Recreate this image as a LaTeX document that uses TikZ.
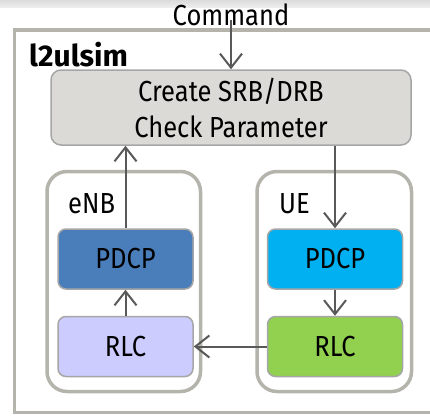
\documentclass[tikz,border=0pt]{standalone}
\usepackage{fontspec}
\setmainfont{Fira Sans}[FakeStretch=0.88]
\newfontfamily\titlefont{Fira Sans}
\usetikzlibrary{arrows.meta}
\definecolor{framegray}{HTML}{B4B4AC}
\definecolor{boxline}{HTML}{A6A6A6}
\definecolor{cfgfill}{HTML}{DCDAD6}
\definecolor{arrowgray}{HTML}{595959}
\definecolor{enbpdcp}{HTML}{4A7EBB}
\definecolor{enbrlc}{HTML}{CCCCFF}
\definecolor{uepdcp}{HTML}{00B0F0}
\definecolor{uerlc}{HTML}{92D050}
\tikzset{
  lbl/.style={font=\fontsize{29}{36}\selectfont, inner sep=0pt},
  container/.style={draw=framegray, line width=3.5pt, rounded corners=20pt},
  layer/.style={draw=boxline, line width=1.5pt, rounded corners=8pt,
    minimum width=135pt, minimum height=60pt, inner sep=0pt,
    font=\fontsize{29}{36}\selectfont},
  flow/.style={draw=arrowgray, line width=2pt,
    -{Straight Barb[length=14pt,width=22pt]}},
}
\begin{document}
\begin{tikzpicture}[x=1pt,y=-1pt]
\useasboundingbox (0,0) rectangle (430,415);
% light band along the top edge
\shade[top color=black!14, bottom color=black!7] (0,0) rectangle (430,7);
% outer frame, open to the right
\draw[framegray, line width=3.5pt] (440,30) -- (14.5,30) -- (14.5,412.5) -- (440,412.5);
\node[inner sep=0pt, font=\titlefont\fontsize{30}{36}\selectfont\bfseries, anchor=base west] (title) at (29,66) {l2ulsim};
% configuration block
\node[draw=boxline, fill=cfgfill, line width=1.5pt, rounded corners=10pt,
  minimum width=360pt, minimum height=75pt, inner sep=0pt, align=center,
  font=\fontsize{29}{36}\selectfont] (cfg) at (231,107.5)
  {Create SRB/DRB\\Check Parameter};
\node[lbl, anchor=base] (cmd) at (231,25) {Command};
\coordinate (cmdtail) at (231,20);
% side containers
\draw[container] (47,171.5) rectangle (200.5,391.5);
\draw[container] (257,171.5) rectangle (411.5,391.5);
\node[lbl, anchor=base west] (enb) at (68,213) {eNB};
\node[lbl, anchor=base west] (ue) at (279,213) {UE};
% protocol layers
\node[layer, fill=enbpdcp] (epdcp) at (125.5,259) {PDCP};
\node[layer, fill=enbrlc] (erlc) at (125.5,346.5) {RLC};
\node[layer, fill=uepdcp] (updcp) at (335,259) {PDCP};
\node[layer, fill=uerlc] (urlc) at (335,346.5) {RLC};
% data flow
\draw[flow] (cmdtail) -- (cmdtail |- cfg.north);
\draw[flow] (cfg.south -| updcp.north) -- (updcp.north);
\draw[flow] (updcp.south) -- (urlc.north);
\draw[flow] (urlc.west) -- (erlc.east);
\draw[flow] (erlc.north) -- (epdcp.south);
\draw[flow] (epdcp.north) -- (epdcp.north |- cfg.south);
\end{tikzpicture}
\end{document}
